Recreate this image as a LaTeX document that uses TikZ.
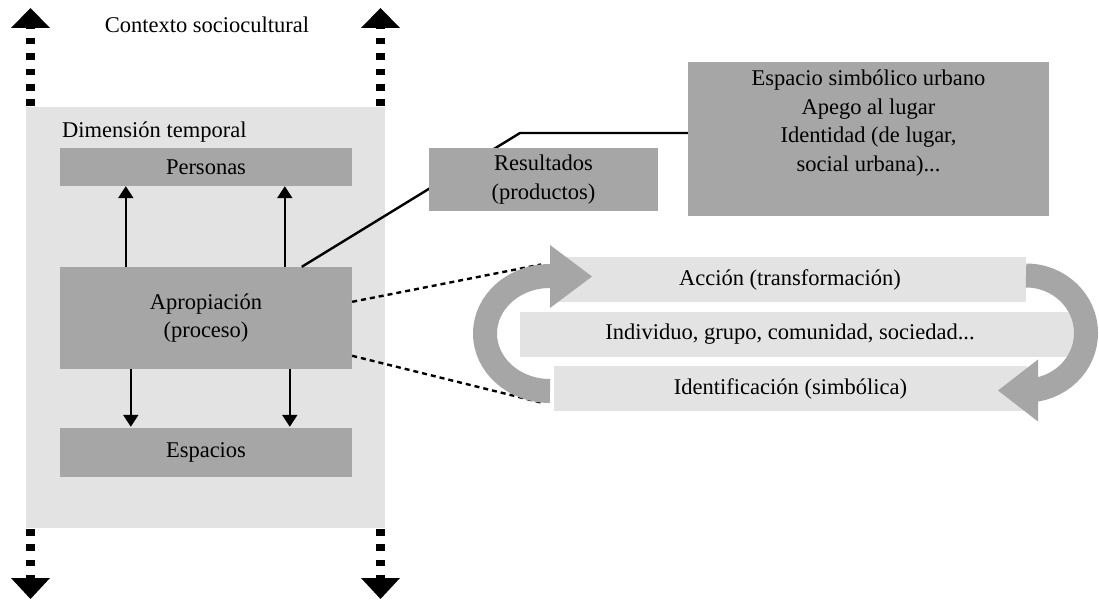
\documentclass[tikz,border=0pt]{standalone}
\usepackage{fontspec}
\setmainfont{Liberation Serif}
\usetikzlibrary{arrows.meta,calc}
\definecolor{boxgray}{HTML}{A6A6A6}
\definecolor{panelgray}{HTML}{E3E3E3}
\begin{document}
\begin{tikzpicture}[x=1pt,y=-1pt,
  txt/.style={font=\fontsize{22.5}{28.5}\selectfont, inner sep=0pt, align=center},
  darkbox/.style={txt, fill=boxgray},
  lightbar/.style={txt, fill=panelgray, minimum height=45},
  panel/.style={fill=panelgray, inner sep=0pt},
  ctxline/.style={line width=8.5pt, dash pattern=on 6.5pt off 8.9pt},
  vert/.style={line width=2.2pt, -{Triangle[width=15pt,length=12pt]}},
  link/.style={line width=2.4pt},
  dotlink/.style={line width=2.4pt, dash pattern=on 5pt off 4pt},
  flow/.style={draw=boxgray, line width=24pt}
]
\fill[white] (0,0) rectangle (1099,601);
\useasboundingbox (0,0) rectangle (1099,601);

% left panel: time dimension
\node[panel, minimum width=359, minimum height=421] (dim) at (205.5,317.5) {};
\node[txt, anchor=base west] (dimt) at (62,138) {Dimensión temporal};
\node[txt, anchor=base] (ctx) at (207,33) {Contexto sociocultural};

% sociocultural context arrows (dotted shafts with solid heads)
\coordinate (lt0) at (30.5,106);  \coordinate (lt1) at (30.5,28);
\coordinate (rt0) at (380.5,106); \coordinate (rt1) at (380.5,28);
\coordinate (lb0) at (30.5,529);  \coordinate (lb1) at (30.5,578);
\coordinate (rb0) at (380.5,529); \coordinate (rb1) at (380.5,578);
\draw[ctxline] (lt0) -- (lt1);
\draw[ctxline] (rt0) -- (rt1);
\draw[ctxline] (lb0) -- (lb1);
\draw[ctxline] (rb0) -- (rb1);
\foreach \c in {lt1,rt1}{
  \fill ($(\c)+(-19.5,0)$) -- ($(\c)+(19.5,0)$) -- ($(\c)+(0,-20)$) -- cycle;}
\foreach \c in {lb1,rb1}{
  \fill ($(\c)+(-19.5,0)$) -- ($(\c)+(19.5,0)$) -- ($(\c)+(0,21)$) -- cycle;}

% persons, appropriation, spaces
\node[darkbox, minimum width=292, minimum height=38] (pers) at (206,167) {Personas};
\node[darkbox, minimum width=292, minimum height=102] (aprop) at (206,318) {Apropiación\\(proceso)};
\node[darkbox, minimum width=292, minimum height=49] (esp) at (206,452.5) {Espacios};

\draw[vert] ($(aprop.north west)+(66,0)$) -- ($(pers.south west)+(66,0)$);
\draw[vert] ($(aprop.north west)+(225,0)$) -- ($(pers.south west)+(225,0)$);
\draw[vert] ($(aprop.south west)+(71,0)$) -- ($(esp.north west)+(71,-1)$);
\draw[vert] ($(aprop.south west)+(230,0)$) -- ($(esp.north west)+(230,-1)$);

% results and products
\node[darkbox, minimum width=361, minimum height=154] (sim) at (868.5,139)
  {Espacio simbólico urbano\\Apego al lugar\\Identidad (de lugar,\\social urbana)...\\\strut};
\coordinate (bend) at (520,133);
\draw[link] ($(aprop.north west)+(242,0)$) -- (bend) -- (bend -| sim.west);
\node[darkbox, minimum width=229, minimum height=63] (res) at (543.5,179.5) {Resultados\\(productos)};

% links to the cycle
\coordinate (cup) at (541,264.5);
\coordinate (clow) at (541,402.5);
\draw[dotlink] ($(aprop.north east)+(0,35)$) -- (cup);
\draw[dotlink] ($(aprop.north east)+(0,89)$) -- (clow);

% cycle of action and identification
\node[lightbar, minimum width=472] (acc) at (790,279.5) {Acción (transformación)};
\node[lightbar, minimum width=560] (ind) at (800,334.5) {};
\node[txt] (indt) at (790,334.5) {Individuo, grupo, comunidad, sociedad...};
\node[lightbar, minimum width=473] (idf) at (790.5,388.5) {Identificación (simbólica)};

\draw[flow] (550,391) arc[start angle=90, end angle=270, x radius=65, y radius=57.5];
\fill[boxgray] (550,245) -- (592,276.5) -- (550,308) -- cycle;
\draw[flow] (1026,275.5) arc[start angle=-90, end angle=90, x radius=60, y radius=57.5];
\fill[boxgray] (1038,359.5) -- (998,390.5) -- (1038,421.5) -- cycle;
\end{tikzpicture}
\end{document}
